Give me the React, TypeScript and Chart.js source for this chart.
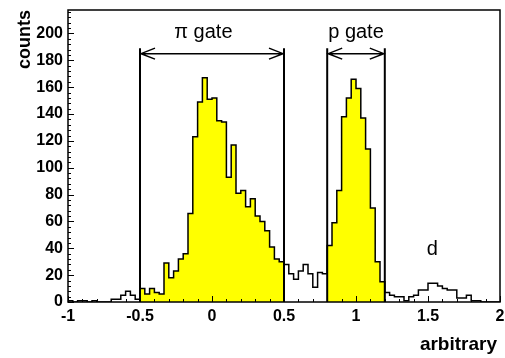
import React, { useEffect, useRef } from 'react';
import { Chart, registerables } from 'chart.js';

Chart.register(...registerables);

// ---- data ----
const BIN_START = -1;
const BIN_END = 2;
const BIN_COUNT = 90;
const counts = [
  1, 0, 1, 1, 0, 1, 0, 0, 0, 2,
  2, 5, 8, 5, 2, 10, 6, 10, 7, 6,
  29, 18, 23, 32, 36, 66, 123, 149, 167, 151,
  152, 135, 134, 93, 117, 81, 83, 71, 77, 64,
  60, 53, 41, 32, 30, 28, 21, 17, 23, 28,
  21, 11, 22, 21, 42, 59, 83, 138, 152, 166,
  159, 137, 114, 70, 30, 15, 7, 5, 4, 4,
  1, 4, 5, 9, 9, 14, 14, 12, 10, 9,
  9, 3, 3, 5, 1, 1, 0, 0, 0, 0,
];
const piGate = [-0.5, 0.5];
const pGate = [0.8, 1.2];
const gateNames = ['\u03c0 gate', 'p gate'];
const peakName = 'd';
const xTickValues = [-1, -0.5, 0, 0.5, 1, 1.5, 2];
const yTickValues = [0, 20, 40, 60, 80, 100, 120, 140, 160, 180, 200];
const xTitle = 'arbitrary';
const yTitle = 'counts';

const FONT = '"Liberation Sans", Arial, Helvetica, sans-serif';

function edge(i: number) {
  return BIN_START + ((BIN_END - BIN_START) * i) / BIN_COUNT;
}
function binIndex(v: number) {
  return Math.round(((v - BIN_START) / (BIN_END - BIN_START)) * BIN_COUNT);
}
function stepPoints(lo: number, hi: number) {
  const a = binIndex(lo);
  const b = binIndex(hi) - 1;
  const pts: { x: number; y: number }[] = [];
  for (let i = a; i <= b; i++) pts.push({ x: edge(i), y: counts[i] });
  pts.push({ x: edge(b + 1), y: counts[b] });
  return pts;
}

const overlay = {
  id: 'overlay',
  afterDatasetsDraw(chart: any) {
    const { ctx, chartArea: a, scales } = chart;
    const x = scales.x;
    const y = scales.y;
    ctx.save();
    ctx.strokeStyle = '#000';
    ctx.fillStyle = '#000';

    // tick marks inside the frame
    ctx.lineWidth = 1;
    ctx.beginPath();
    for (let j = 0; j <= 30; j++) {
      const v = -1 + j * 0.1;
      const px = Math.round(x.getPixelForValue(v)) + 0.5;
      const len = j % 5 === 0 ? 6 : 3;
      ctx.moveTo(px, a.bottom);
      ctx.lineTo(px, a.bottom - len);
    }
    for (let c = 0; c <= 216; c += 4) {
      const py = Math.round(y.getPixelForValue(c)) + 0.5;
      const len = c % 20 === 0 ? 6 : 3;
      ctx.moveTo(a.left, py);
      ctx.lineTo(a.left + len, py);
    }
    ctx.stroke();

    // gates
    const gates = [piGate, pGate];
    const labelOffsets = [-0.06, 0];
    gates.forEach((g, k) => {
      const x0 = x.getPixelForValue(g[0]);
      const x1 = x.getPixelForValue(g[1]);
      const topY = y.getPixelForValue(189);
      const arrowY = y.getPixelForValue(185);
      ctx.lineWidth = 2;
      ctx.beginPath();
      ctx.moveTo(x0, a.bottom);
      ctx.lineTo(x0, topY);
      ctx.moveTo(x1, a.bottom);
      ctx.lineTo(x1, topY);
      ctx.stroke();
      ctx.lineWidth = 1.5;
      ctx.beginPath();
      ctx.moveTo(x0, arrowY);
      ctx.lineTo(x1, arrowY);
      ctx.moveTo(x0 + 15, arrowY - 5.5);
      ctx.lineTo(x0 + 1, arrowY);
      ctx.lineTo(x0 + 15, arrowY + 5.5);
      ctx.moveTo(x1 - 15, arrowY - 5.5);
      ctx.lineTo(x1 - 1, arrowY);
      ctx.lineTo(x1 - 15, arrowY + 5.5);
      ctx.stroke();
      ctx.font = '20px ' + FONT;
      ctx.textAlign = 'center';
      ctx.textBaseline = 'alphabetic';
      const cx = x.getPixelForValue((g[0] + g[1]) / 2 + labelOffsets[k]);
      ctx.fillText(gateNames[k], cx, y.getPixelForValue(196.5));
    });

    // peak label
    ctx.font = '20px ' + FONT;
    ctx.textAlign = 'center';
    ctx.fillText(peakName, x.getPixelForValue(1.53), y.getPixelForValue(35));

    // frame
    ctx.lineWidth = 1.5;
    ctx.strokeRect(a.left, a.top, a.right - a.left, a.bottom - a.top);

    // axis titles
    ctx.font = 'bold 19px ' + FONT;
    ctx.textAlign = 'right';
    ctx.textBaseline = 'alphabetic';
    ctx.fillText(xTitle, 497, 350);
    ctx.save();
    ctx.translate(30, 10);
    ctx.rotate(-Math.PI / 2);
    ctx.font = 'bold 18px ' + FONT;
    ctx.textAlign = 'right';
    ctx.fillText(yTitle, 0, 0);
    ctx.restore();

    ctx.restore();
  },
};

export default function App() {
  const ref = useRef<HTMLCanvasElement | null>(null);
  useEffect(() => {
    document.body.style.margin = '0';
    const canvas = ref.current;
    if (!canvas) return;
    const outline = counts.map((c, i) => ({ x: edge(i), y: c }));
    outline.push({ x: edge(BIN_COUNT), y: counts[BIN_COUNT - 1] });
    const chart = new Chart(canvas, {
      type: 'line',
      data: {
        datasets: [
          {
            data: stepPoints(piGate[0], piGate[1]),
            stepped: true,
            borderWidth: 0,
            borderColor: 'rgba(0,0,0,0)',
            backgroundColor: '#ffff00',
            fill: 'origin',
            pointRadius: 0,
            order: 3,
          },
          {
            data: stepPoints(pGate[0], pGate[1]),
            stepped: true,
            borderWidth: 0,
            borderColor: 'rgba(0,0,0,0)',
            backgroundColor: '#ffff00',
            fill: 'origin',
            pointRadius: 0,
            order: 2,
          },
          {
            data: outline,
            stepped: true,
            borderWidth: 1.5,
            borderColor: '#000',
            fill: false,
            pointRadius: 0,
            order: 1,
          },
        ],
      },
      options: {
        responsive: false,
        animation: false,
        events: [],
        layout: { padding: { top: 10, right: 5, bottom: 0, left: 0 } },
        plugins: { legend: { display: false }, tooltip: { enabled: false } },
        scales: {
          x: {
            type: 'linear',
            min: BIN_START,
            max: BIN_END,
            grid: { display: false, drawTicks: false },
            border: { display: false },
            afterBuildTicks: (s: any) => {
              s.ticks = xTickValues.map((v) => ({ value: v }));
            },
            afterFit: (s: any) => {
              s.height = 56;
              s.paddingLeft = 0;
              s.paddingRight = 0;
            },
            ticks: {
              autoSkip: false,
              maxRotation: 0,
              padding: 5,
              color: '#000',
              font: { family: FONT, size: 16, weight: 'bold' },
              callback: (v: any) => String(v),
            },
          },
          y: {
            type: 'linear',
            min: 0,
            max: 217.5,
            grid: { display: false, drawTicks: false },
            border: { display: false },
            afterBuildTicks: (s: any) => {
              s.ticks = yTickValues.map((v) => ({ value: v }));
            },
            afterFit: (s: any) => {
              s.width = 68;
              s.paddingTop = 0;
              s.paddingBottom = 0;
            },
            ticks: {
              autoSkip: false,
              padding: 5,
              color: '#000',
              font: { family: FONT, size: 16, weight: 'bold' },
              callback: (v: any) => String(v),
            },
          },
        },
      },
      plugins: [overlay],
    } as any);
    return () => chart.destroy();
  }, []);
  return (
    <div style={{ width: 505, height: 358, background: '#fff' }}>
      <canvas ref={ref} width={505} height={358} />
    </div>
  );
}
